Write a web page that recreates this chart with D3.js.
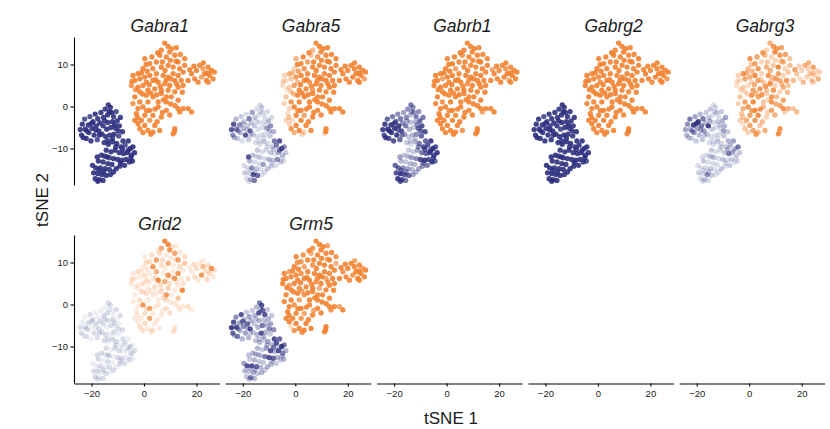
<!DOCTYPE html>
<html>
<head>
<meta charset="utf-8">
<script src="https://cdn.jsdelivr.net/npm/d3@7"></script>
<style>
  body { margin: 0; background: #fff; }
  text { font-family: "Liberation Sans", Arial, Helvetica, sans-serif; }
</style>
</head>
<body>
<script>
// genes, one facet each
var genes = ["Gabra1", "Gabra5", "Gabrb1", "Gabrg2", "Gabrg3", "Grid2", "Grm5"];
var xTicks = [-20, 0, 20];
var yTicks = [-10, 0, 10];

// tSNE coordinates [tSNE1, tSNE2] of the cells
var navyCells = [
  [-24.3,-5.5],[-23.5,-4.2],[-23.8,-6.8],[-22.6,-3.0],[-22.4,-5.4],[-22.0,-7.6],[-21.2,-4.4],[-21.0,-6.2],[-20.6,-2.4],[-20.2,-8.2],
  [-19.8,-5.2],[-19.4,-3.6],[-19.0,-6.8],[-18.6,-1.8],[-18.2,-4.6],[-17.8,-7.9],[-17.6,-2.9],[-17.2,-5.8],[-16.8,-3.9],[-16.4,-1.4],
  [-14.8,-0.6],[-13.6,0.4],[-12.8,-0.2],[-12.4,-1.4],[-13.9,-2.0],[-15.4,-2.6],[-11.6,-2.4],[-10.6,-1.2],[-10.2,-3.4],[-12.0,-3.6],[-13.8,-3.8],[-15.6,-4.6],
  [-14.2,-5.4],[-12.6,-5.0],[-10.8,-5.2],[-9.4,-4.6],[-9.0,-2.6],[-16.0,-6.6],[-14.6,-7.2],[-13.0,-6.8],[-11.4,-6.6],[-9.6,-7.0],[-8.2,-6.0],[-8.0,-8.2],
  [-15.2,-8.6],[-13.6,-9.0],[-12.0,-8.4],[-10.4,-8.8],[-8.8,-9.6],[-7.2,-9.2],[-6.0,-8.2],[-5.2,-10.0],[-4.2,-9.6],[-3.6,-11.0],[-4.8,-11.6],[-6.4,-11.0],[-7.8,-11.2],[-9.4,-11.0],
  [-11.0,-10.4],[-12.6,-10.8],[-14.4,-10.4],[-13.2,-12.2],[-11.6,-12.4],[-10.0,-12.6],[-8.4,-12.8],[-6.8,-12.6],[-5.6,-13.2],[-4.4,-13.0],[-7.4,-14.0],[-9.2,-14.2],[-12.2,-13.8],[-14.0,-12.0],
  [-16.2,-11.6],[-17.4,-13.0],[-15.6,-13.2],[-16.6,-14.6],[-14.8,-14.8],[-13.2,-15.0],[-18.4,-14.6],[-19.2,-15.8],[-17.6,-16.0],[-16.0,-16.2],
  [-14.4,-16.4],[-12.8,-16.2],[-18.6,-17.2],[-17.0,-17.4],[-15.6,-17.6],[-11.6,-15.6],[-10.6,-14.8],[-17.8,-12.0],[-19.6,-14.0],
  [-23.2,-7.4],[-21.8,-5.8],[-20.0,-4.0],[-18.4,-5.6],[-17.0,-6.8],[-15.0,-3.4],[-13.2,-1.2],[-11.2,-4.4],[-9.8,-5.8],[-12.0,-7.6],
  [-13.8,-8.2],[-10.8,-9.6],[-8.2,-10.2],[-6.0,-10.4],[-5.0,-12.2],[-9.0,-13.4],[-15.0,-11.8],[-13.8,-13.6],[-15.4,-15.6],[-17.2,-15.2],[-17.6,-17.8]
];

var orangeCells = [
  [7.9,15.1],[9.2,14.3],[6.6,13.4],[9.8,13.0],[12.3,14.0],[6.0,12.2],[8.5,11.8],[11.7,12.2],[15.5,11.4],[13.0,10.6],
  [0.3,11.4],[2.2,10.2],[4.7,10.6],[-0.4,9.0],[3.4,9.0],[6.6,9.4],[9.2,9.8],[11.1,9.4],[13.6,9.0],[15.5,9.8],[14.9,8.2],
  [18.1,7.8],[20.0,8.6],[21.2,9.8],[22.5,9.0],[24.4,9.4],[25.7,8.6],[23.1,7.8],[25.0,7.4],[26.3,6.6],[21.9,7.0],[19.3,6.6],[23.8,6.2],[16.8,6.2],[24.4,5.8],
  [-4.2,7.4],[-2.3,7.8],[-3.5,6.2],[-1.6,6.6],[0.3,7.0],[2.2,7.4],[4.7,7.8],[7.3,7.4],[9.2,7.0],[11.1,7.8],[13.0,7.4],[11.7,6.2],[14.2,6.2],
  [0.9,5.8],[3.4,6.2],[5.4,5.8],[7.9,5.4],[9.8,5.0],[13.0,4.6],[14.9,5.0],
  [-4.8,5.0],[-2.3,4.6],[-0.4,5.0],
  [-1.6,3.5],[1.5,3.9],[4.1,4.2],[6.6,3.9],[9.2,3.9],[11.7,3.5],
  [-3.5,2.3],[0.9,2.7],[3.4,2.3],[6.6,3.1],[8.5,2.3],[10.4,2.3],[13.0,1.5],
  [-4.2,0.7],[-1.6,1.1],[1.5,1.1],[5.4,1.1],[8.5,1.1],
  [-2.3,-0.5],[-0.4,-0.1],[2.2,-0.9],[5.4,-0.1],[8.5,-0.9],[13.0,-0.5],[14.9,-0.5],[16.8,-0.5],[18.1,-1.3],[13.6,-1.3],
  [-2.9,-1.7],[0.3,-2.1],[3.4,-2.1],[6.6,-2.5],
  [-3.5,-3.3],[-1.0,-3.3],[2.2,-3.3],
  [-2.3,-4.1],[0.3,-4.5],[4.1,-4.5],
  [6.0,-5.7],[3.4,-6.1],[11.7,-5.3],[11.1,-6.5],[-1.6,-5.3],[1.5,-5.7],
  [1.2,8.4],[3.0,11.8],[5.2,12.8],[7.0,10.6],[8.0,8.6],[10.0,11.0],[12.2,10.8],[13.8,12.4],[10.6,13.8],
  [2.0,5.2],[4.4,6.4],[6.2,4.8],[8.4,6.2],[10.2,6.6],[12.4,5.4],
  [-0.6,3.0],[2.6,3.2],[4.8,2.8],[7.4,1.6],[10.2,0.6],[11.8,0.2],
  [-3.2,4.0],[-4.6,6.0],[-1.0,8.0],[0.8,10.0],[14.6,3.4],[17.4,8.8],[19.0,9.6],[22.6,10.4],[24.2,8.0],[26.8,8.2],[20.6,5.8],
  [-2.4,-2.6],[1.0,-1.0],[4.2,-0.6],[7.0,-1.4],[9.8,-2.0],[5.0,-3.6],[-0.4,-6.2],[2.6,-6.6],[11.6,-6.0]
];

// expression level 0-9 per cell, same order as the cells, one string per gene
var navyLevels = [
  "99989 99989 99999 89999|99999 99899 99999 99999 9899|99999 89999 99999 99899 99999 999|99999 99999 99999 9999|99999 99999 99999 99999 9",
  "88536 25321 32812 26724|11211 21131 12114 51211 1236|11212 68852 23121 12113 25211 241|23152 11218 71136 1281|34222 11131 11261 11121 1",
  "99879 89968 98959 76854|56543 56573 26327 86423 5787|21368 89989 89764 22358 98976 532|23254 37898 74986 3447|99876 45572 25898 62356 8",
  "99999 99989 99999 99999|99999 99999 99899 99999 9999|99999 99999 99999 99999 99989 999|99999 99999 99999 9999|99999 99999 99999 99999 9",
  "45363 29542 49336 26432|21121 21232 19211 34211 1223|11212 34362 13621 12112 12112 112|12112 11215 21121 1211|25942 31241 12321 12121 1",
  "10101 11010 01101 10110|01101 10101 11010 01110 1011|10110 10101 10011 01101 10101 101|11010 10110 10101 1010|01101 10110 11010 10110 1",
  "98758 64383 53427 34832|36878 38232 32362 42238 3258|23243 87963 58384 23268 73232 322|32387 38323 23263 2324|34732 23253 23623 23232 2"
];
var orangeLevels = [
  "99999 99999|99999 99999 9|99979 99997 9999|99999 99999 99999 99999 89999 9999|99999 99899 99999 99999 99999 99989 99999 999|99999 99989 99999 99999 98999 99999 99999 99999 9",
  "99599 48999|69738 99999 9|99999 99979 9999|36248 99999 99959 89999 23749 9799|49999 99389 99399 99999 99297 93293 99939 289|79999 99999 99999 59999 92359 99999 99499 99963 9",
  "99999 89999|99997 99999 9|99989 99999 9799|99979 99999 99999 98999 99999 9999|99999 99989 99999 99999 97999 99999 99899 999|99999 99999 99899 99999 99999 97999 99999 99999 9",
  "99999 99999|99999 99999 9|99999 99989 9999|99999 99999 99989 99999 99999 9999|99999 99999 99999 99999 99999 99999 99999 999|99999 99999 99999 99999 99999 99999 99999 99999 9",
  "68397 53846|87358 64935 4|43637 24363 2453|38276 93847 36837 49364 23237 8483|48738 57379 48689 57864 53479 33682 74658 947|57846 35786 38475 25836 73264 57364 35478 36538 4",
  "99681 21727|12718 26124 1|12152 81218 2121|12112 16181 88121 96212 11211 2131|12128 14121 12187 12112 11121 11171 21121 121|12121 12121 12121 21121 11212 91211 21121 12121 1",
  "99897 69989|98997 89996 9|89999 79998 9999|97999 89999 97999 98999 97998 9969|99899 99997 99989 99997 98997 99989 99999 929|98999 97999 99998 97999 99998 99979 99999 79989 9"
];

var navy = "#2b2d7e", orange = "#f3802d";

function levels(s) {
  return s.replace(/[\s|]/g, "").split("").map(Number);
}

var width = 830, height = 429;
var panelW = 145.5, panelH = 148, pitch = 151.3, left0 = 74;
var rowTop = [37, 235];

var svg = d3.select("body").append("svg")
    .attr("width", width)
    .attr("height", height);

var x = d3.scaleLinear().domain([-26.67, 28.76]).range([0, panelW]);
var y = d3.scaleLinear().domain([16.55, -18.69]).range([0, panelH]);
var alpha = function(lv) { return 0.08 + 0.09 * lv; };

genes.forEach(function(gene, i) {
  var col = i % 5, row = Math.floor(i / 5);
  var g = svg.append("g")
      .attr("transform", "translate(" + (left0 + col * pitch) + "," + rowTop[row] + ")");

  var nl = levels(navyLevels[i]), ol = levels(orangeLevels[i]);

  g.selectAll("circle.navy").data(navyCells).enter().append("circle")
      .attr("class", "navy")
      .attr("cx", function(d) { return x(d[0]); })
      .attr("cy", function(d) { return y(d[1]); })
      .attr("r", 2.65)
      .attr("fill", navy)
      .attr("fill-opacity", function(d, j) { return alpha(nl[j]); });

  g.selectAll("circle.orange").data(orangeCells).enter().append("circle")
      .attr("class", "orange")
      .attr("cx", function(d) { return x(d[0]); })
      .attr("cy", function(d) { return y(d[1]); })
      .attr("r", 2.65)
      .attr("fill", orange)
      .attr("fill-opacity", function(d, j) { return alpha(ol[j]); });

  // facet title
  g.append("text")
      .attr("x", panelW / 2 + 13)
      .attr("y", -5.5)
      .attr("text-anchor", "middle")
      .attr("font-style", "italic")
      .attr("font-size", "17.5px")
      .attr("fill", "#1a1a1a")
      .text(gene);

  if (col === 0) {
    var ya = g.append("g")
        .call(d3.axisLeft(y).tickValues(yTicks).tickSize(3.5).tickSizeOuter(0).tickPadding(2.5));
    ya.selectAll("text").attr("font-size", "9.5px").attr("fill", "#1a1a1a");
    ya.attr("font-family", null);
  }
});

// x axes along the bottom row
for (var c = 0; c < 5; c++) {
  var xa = svg.append("g")
      .attr("transform", "translate(" + (left0 + c * pitch) + "," + (rowTop[1] + panelH + 0.5) + ")")
      .call(d3.axisBottom(x).tickValues(xTicks).tickSize(3).tickSizeOuter(0).tickPadding(4));
  xa.selectAll("text").attr("font-size", "9.5px").attr("fill", "#1a1a1a");
  xa.attr("font-family", null);
}

svg.selectAll(".domain, .tick line").attr("stroke", "#000").attr("stroke-width", 1.1);

// axis titles
svg.append("text")
    .attr("x", 451)
    .attr("y", 424)
    .attr("text-anchor", "middle")
    .attr("font-size", "17px")
    .attr("fill", "#1a1a1a")
    .text("tSNE 1");

svg.append("text")
    .attr("transform", "translate(48,200) rotate(-90)")
    .attr("text-anchor", "middle")
    .attr("font-size", "17px")
    .attr("fill", "#1a1a1a")
    .text("tSNE 2");
</script>
</body>
</html>
